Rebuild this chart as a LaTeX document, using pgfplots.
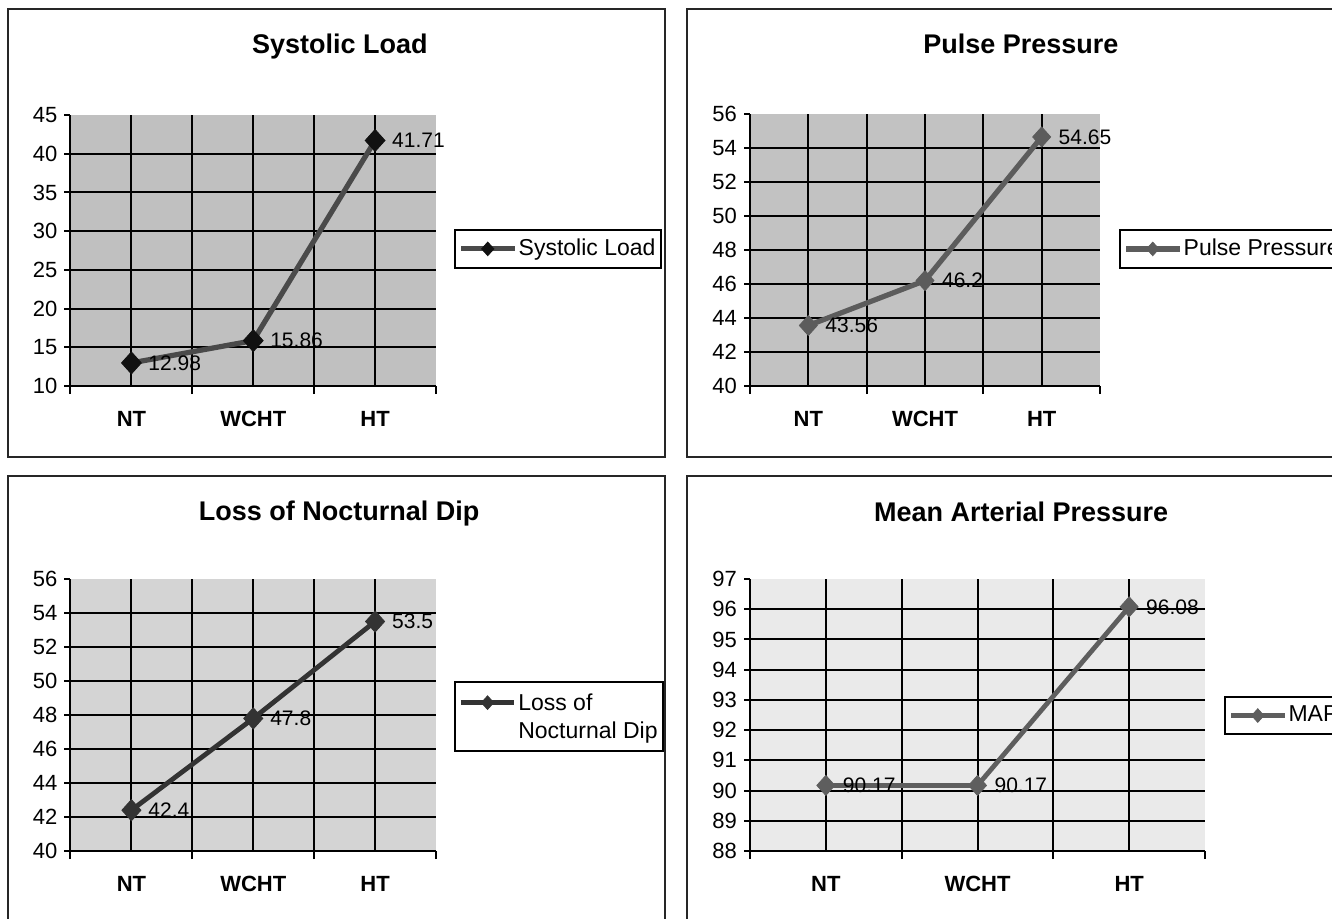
\documentclass[border=0pt]{standalone}
\usepackage{fontspec}
\setmainfont{Liberation Sans}
\usepackage{pgfplots}
\pgfplotsset{compat=1.18}

\definecolor{bgA}{HTML}{C0C0C0}
\definecolor{bgB}{HTML}{C2C2C2}
\definecolor{bgC}{HTML}{D4D4D4}
\definecolor{bgD}{HTML}{EAEAEA}
\definecolor{lnA}{HTML}{4A4A4A}
\definecolor{mkA}{HTML}{111111}
\definecolor{lnB}{HTML}{5C5C5C}
\definecolor{lnC}{HTML}{333333}
\definecolor{lnD}{HTML}{5E5E5E}

\newcommand{\paneltitle}[3]{\node[font=\bfseries\fontsize{13.5}{16}\selectfont, anchor=center]
  at (axis description cs:#1,#2) {#3};}

\pgfplotsset{
  panel/.style={
    scale only axis,
    /pgf/number format/assume math mode=true,
    axis x line*=bottom, axis y line*=left,
    axis line style={-, black, line width=1pt},
    xmin=0.5, xmax=3.5,
    xtick={1,1.5,2,2.5,3}, xticklabels={NT,,WCHT,,HT},
    major x tick style={draw=none},
    minor xtick={0.5,1.5,2.5,3.5},
    xmajorgrids=true, ymajorgrids=true,
    major grid style={black, line width=1pt},
    tick align=outside,
    major tick length=3pt, minor tick length=4pt,
    tick style={black, line width=1pt},
    xticklabel style={font=\bfseries\fontsize{11}{13}\selectfont, yshift=-6pt},
    yticklabel style={font=\fontsize{11}{13}\selectfont},
    extra y tick style={grid=none},
    clip=false,
    legend cell align=left,
    legend style={draw=black, line width=0.9pt, font=\fontsize{11.5}{14}\selectfont,
      inner sep=2.5pt, inner xsep=1.8pt, nodes={inner xsep=0.8pt}},
    nodes near coords, point meta=y,
    every node near coord/.append style={anchor=west, xshift=5pt, text=black,
      font=\fontsize{10.5}{12}\selectfont},
    legend image code/.code={\draw[mark repeat=2,mark phase=2,##1]
      plot coordinates {(0cm,0cm) (0.47cm,0cm) (0.94cm,0cm)};},
    legend image post style={mark size=3.4pt},
  }
}

\begin{document}
\begin{tikzpicture}
\useasboundingbox (0,0) rectangle (666pt,459pt);
\clip (0,0) rectangle (666pt,459pt);

% panel frames
\draw[line width=1pt, black!85] (4pt,454.5pt) rectangle (332.5pt,230.5pt);
\draw[line width=1pt, black!85] (343.5pt,454.5pt) rectangle (672.5pt,230.5pt);
\draw[line width=1pt, black!85] (4pt,221pt) rectangle (332.5pt,-6pt);
\draw[line width=1pt, black!85] (343.5pt,221pt) rectangle (672.5pt,-6pt);

% Systolic Load
\begin{axis}[panel,
  at={(35.25pt,266pt)}, anchor=south west,
  width=182.75pt, height=135.5pt,
  axis background/.style={fill=bgA},
  ymin=10, ymax=45, ytick={10,15,...,40}, extra y ticks={45},
  legend style={at={(1.049,0.506)}, anchor=west},
]
\addplot[color=lnA, line width=2.6pt, mark=diamond*, mark size=5.5pt,
  mark options={fill=mkA, draw=mkA, line width=0.4pt, xscale=1.2}]
  coordinates {(1,12.98) (2,15.86) (3,41.71)};
\addlegendentry{Systolic Load}
\paneltitle{0.737}{1.251}{Systolic Load}
\end{axis}

% Pulse Pressure
\begin{axis}[panel,
  at={(375pt,266pt)}, anchor=south west,
  width=175pt, height=136pt,
  axis background/.style={fill=bgB},
  ymin=40, ymax=56, ytick={40,42,...,54}, extra y ticks={56},
  legend style={at={(1.054,0.504)}, anchor=west},
]
\addplot[color=lnB, line width=2.6pt, mark=diamond*, mark size=5pt,
  mark options={fill=lnB, draw=lnB, line width=0.4pt, xscale=1.2}]
  coordinates {(1,43.56) (2,46.2) (3,54.65)};
\addlegendentry{Pulse Pressure}
\paneltitle{0.774}{1.257}{Pulse Pressure}
\end{axis}

% Loss of Nocturnal Dip
\begin{axis}[panel,
  at={(35.25pt,33.5pt)}, anchor=south west,
  width=182.75pt, height=136pt,
  axis background/.style={fill=bgC},
  ymin=40, ymax=56, ytick={40,42,...,54}, extra y ticks={56},
  legend style={at={(1.049,0.494)}, anchor=west},
  legend image code/.code={\draw[yshift=7pt,mark repeat=2,mark phase=2,#1]
      plot coordinates {(0cm,0cm) (0.47cm,0cm) (0.94cm,0cm)};},
]
\addplot[color=lnC, line width=2.4pt, mark=diamond*, mark size=5.3pt,
  mark options={fill=lnC, draw=lnC, line width=0.4pt, xscale=1.2}]
  coordinates {(1,42.4) (2,47.8) (3,53.5)};
\addlegendentry{\begin{tabular}[b]{@{}l@{}}Loss of\\Nocturnal Dip\end{tabular}}
\paneltitle{0.735}{1.239}{Loss of Nocturnal Dip}
\end{axis}

% Mean Arterial Pressure
\begin{axis}[panel,
  at={(375pt,33.5pt)}, anchor=south west,
  width=227.5pt, height=136pt,
  axis background/.style={fill=bgD},
  ymin=88, ymax=97, ytick={88,89,...,96}, extra y ticks={97},
  legend style={at={(1.042,0.498)}, anchor=west},
]
\addplot[color=lnD, line width=2.4pt, mark=diamond*, mark size=5pt,
  mark options={fill=lnD, draw=lnD, line width=0.4pt, xscale=1.2}]
  coordinates {(1,90.17) (2,90.17) (3,96.08)};
\addlegendentry{MAP}
\paneltitle{0.596}{1.246}{Mean Arterial Pressure}
\end{axis}
\end{tikzpicture}
\end{document}
